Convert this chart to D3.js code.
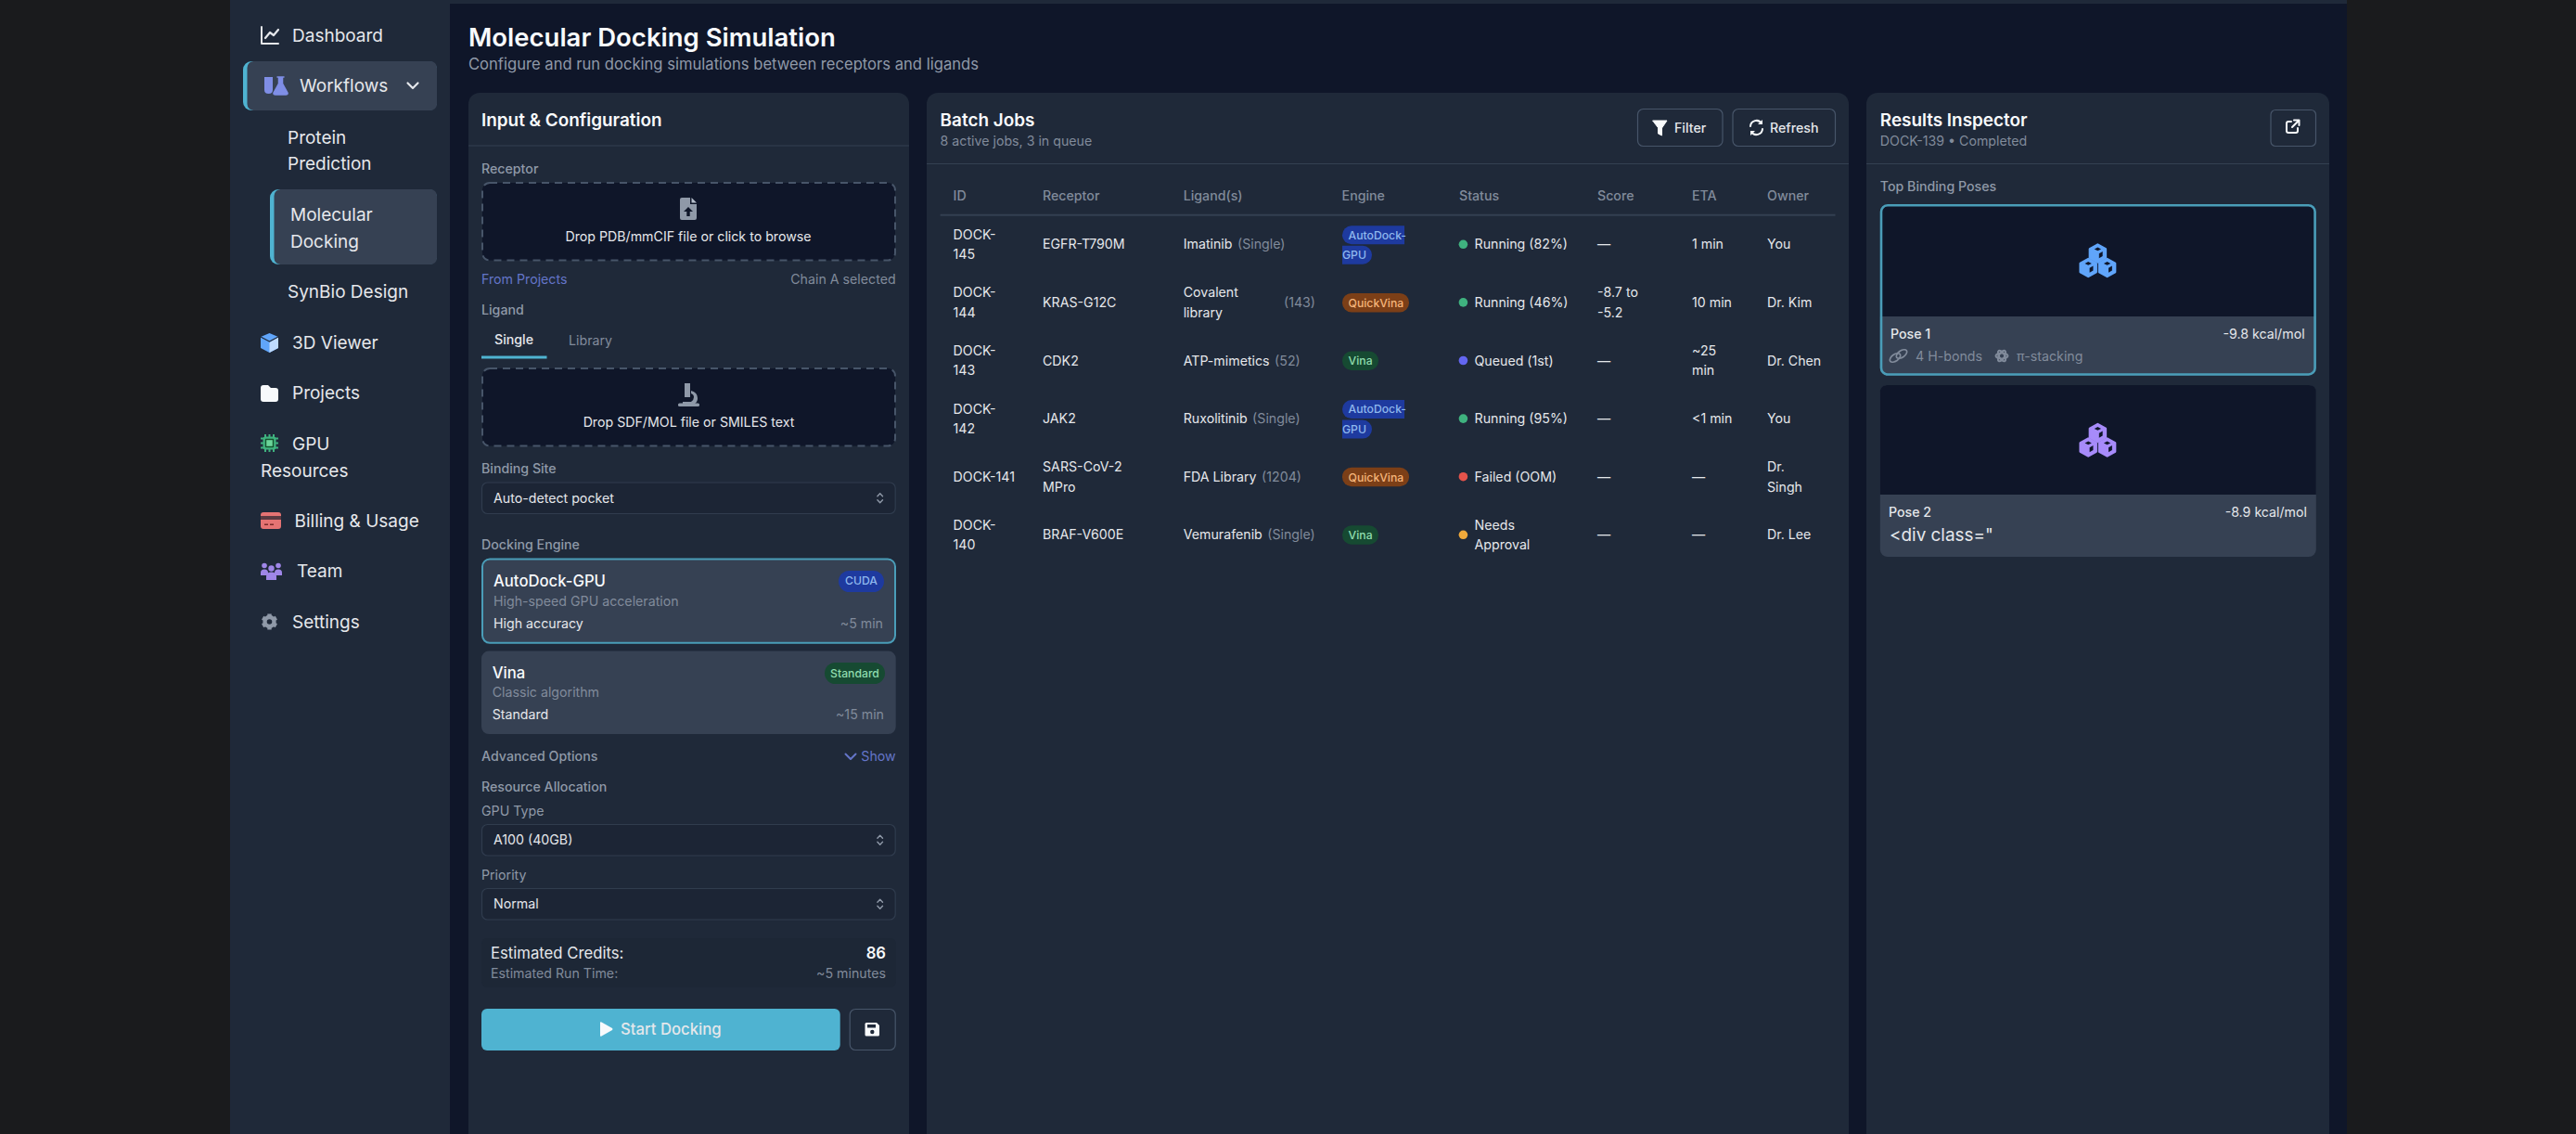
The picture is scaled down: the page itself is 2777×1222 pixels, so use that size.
<!DOCTYPE html>
<html><head><meta charset="utf-8">
<script src="https://cdn.jsdelivr.net/npm/d3@7/dist/d3.min.js"></script>
<style>html,body{margin:0;padding:0;background:#1a1b1d;overflow:hidden}svg{display:block}text{font-family:Inter,sans-serif}</style>
</head><body><svg id="c" width="2777" height="1222"></svg>
<script>
const columnLabels = ["ID","Receptor","Ligand(s)","Engine","Status","Score","ETA","Owner"];
const jobIds = [["DOCK-","145"],["DOCK-","144"],["DOCK-","143"],["DOCK-","142"],["DOCK-141"],["DOCK-","140"]];
const receptors = [["EGFR-T790M"],["KRAS-G12C"],["CDK2"],["JAK2"],["SARS-CoV-2","MPro"],["BRAF-V600E"]];
const ligandNames = [["Imatinib"],["Covalent","library"],["ATP-mimetics"],["Ruxolitinib"],["FDA Library"],["Vemurafenib"]];
const ligandNotes = ["(Single)","(143)","(52)","(Single)","(1204)","(Single)"];
const engines = ["AutoDock-GPU","QuickVina","Vina","AutoDock-GPU","QuickVina","Vina"];
const statuses = [["Running (82%)"],["Running (46%)"],["Queued (1st)"],["Running (95%)"],["Failed (OOM)"],["Needs","Approval"]];
const statusKinds = ["run","run","queue","run","fail","wait"];
const scores = [["—"],["-8.7 to","-5.2"],["—"],["—"],["—"],["—"]];
const etas = [["1 min"],["10 min"],["~25","min"],["<1 min"],["—"],["—"]];
const owners = [["You"],["Dr. Kim"],["Dr. Chen"],["You"],["Dr.","Singh"],["Dr. Lee"]];
const navItems = ["Dashboard","3D Viewer","Projects","Billing & Usage","Team","Settings"];

const svg = d3.select("#c");
const C = {outer:"#1a1b1d",bg:"#0f1629",panel:"#1f2939",raised:"#364153",line:"#344052",accent:"#4fb3d1",text:"#e5e7eb",white:"#f8fafc",mute:"#8f99a8",dim:"#818b9b",indigo:"#6475c8"};
const R=(x0,y0,x1,y1,fill,o={})=>svg.append("rect").attr("x",x0).attr("y",y0).attr("width",x1-x0).attr("height",y1-y0).attr("rx",o.r||0).attr("fill",fill).attr("stroke",o.stroke||"none").attr("stroke-width",o.sw||1).attr("stroke-dasharray",o.dash||null);
const T=(x,y,s,o={})=>svg.append("text").attr("x",x).attr("y",y).attr("dy","0.36em").attr("font-size",o.size||14.2).attr("font-weight",o.weight||400).attr("fill",o.fill||C.text).attr("text-anchor",o.anchor||"start").text(s);
const P=(d,fill,o={})=>svg.append("path").attr("d",d).attr("fill",fill).attr("stroke",o.stroke||"none").attr("stroke-width",o.sw||1).attr("stroke-linecap","round").attr("stroke-linejoin","round");
const L=(x0,y0,x1,y1,c,w=1.5)=>svg.append("line").attr("x1",x0).attr("y1",y0).attr("x2",x1).attr("y2",y1).attr("stroke",c).attr("stroke-width",w);
const NAV=19, SM=14.2, MD=16.7, H2=18.9;

// shell
R(248,0,485,1222,C.panel);
R(485,0,2530,1222,C.bg);
R(485,0,2530,4,C.panel);

// sidebar
const navY = d3.scaleOrdinal().domain(navItems).range([38,369,423.5,561.5,615,670]);
const navX = d3.scaleOrdinal().domain(navItems).range([315,315,315,317.5,320,315]);
navItems.forEach(n=>T(navX(n),navY(n),n,{size:NAV}));
P("M282 29V47H300","none",{stroke:C.text,sw:2});
P("M286 41L291 35L295 38L300 32","none",{stroke:C.text,sw:2.2});

R(262,66,471,119,C.accent,{r:9});
R(266.5,66,471,119,C.raised,{r:7});
P("M285 83H294V97Q294 101 289.5 101Q285 101 285 97Z","#7f8ee6");
P("M299 83H306M300.5 83V90L295 100Q294.5 102 297 102H308Q310.5 102 310 100L304.5 90V83","#7f8ee6",{stroke:"#7f8ee6",sw:1.5});
T(323,92.5,"Workflows",{size:NAV});
P("M439.5 89.5L445 95L450.5 89.5","none",{stroke:C.text,sw:2.2});
T(310,148,"Protein",{size:NAV});T(310,176,"Prediction",{size:NAV});
R(291,204,471,285,C.accent,{r:9});
R(295.5,204,471,285,C.raised,{r:7});
T(313,231,"Molecular",{size:NAV});T(313,260,"Docking",{size:NAV});
T(310,314,"SynBio Design",{size:NAV});

// 3D viewer icon
P("M290.5 359L300 363V375L290.5 380L281 375V363Z","#60a5fa");
P("M290.5 369V380L300 375V363Z","#bfdbfe");
P("M281 363L290.5 368L300 363","none",{stroke:C.panel,sw:1.3});
// folder
P("M281 418Q281 415 284 415H289L292 418H297Q300 418 300 421V430Q300 433 297 433H284Q281 433 281 430Z",C.white);
// gpu
[472.5,477.5,482.5].forEach(y=>{L(281,y,300,y,"#3fb27f",2)});
[286,290.5,295].forEach(x=>{L(x,468,x,487,"#3fb27f",2)});
R(283.5,470.5,297.5,484.5,"#3fb27f",{r:2.5});R(285.8,472.8,295.2,482.2,"#14532d",{r:1});R(287.2,474.2,293.8,480.8,"#6bd49a");
T(315,478,"GPU",{size:NAV});T(281,507,"Resources",{size:NAV});
// billing
R(281,552,303,570,"#e57373",{r:3});R(281,556,303,560,"#5b3a42");
R(285,564.5,289,566,"#7a2a2a");R(291,564.5,295,566,"#7a2a2a");
// team
[[285,609.5,2.8],[300,609.5,2.8],[292.5,612.5,3.2]].forEach(([x,y,r])=>svg.append("circle").attr("cx",x).attr("cy",y).attr("r",r).attr("fill","#9f86e8"));
P("M281 620V617Q281 613.5 285 613.5Q289 613.5 289 617V620ZM296 620V617Q296 613.5 300 613.5Q304 613.5 304 617V620ZM287 625V621Q287 616.5 292.5 616.5Q298 616.5 298 621V625Z","#9f86e8");
// settings
d3.range(6).forEach(i=>{const a=i*Math.PI/3+Math.PI/6;L(290.5+6*Math.cos(a),670+6*Math.sin(a),290.5+8.5*Math.cos(a),670+8.5*Math.sin(a),C.mute,4.4)});
svg.append("circle").attr("cx",290.5).attr("cy",670).attr("r",5).attr("fill","none").attr("stroke",C.mute).attr("stroke-width",4.4);

// heading
T(505,40,"Molecular Docking Simulation",{size:27.5,weight:600,fill:C.white});
T(505,69,"Configure and run docking simulations between receptors and ligands",{size:16.6,fill:C.mute});

// panels
R(505,100,980,1260,C.panel,{r:12});
R(999,100,1993,1260,C.panel,{r:12});
R(2012,100,2511,1260,C.panel,{r:12});
R(505,156.5,980,157.5,C.line);R(999,176,1993,177,C.line);R(2012,176,2511,177,C.line);

// input panel
const lab=(y,s)=>T(519,y,s,{weight:500,fill:C.mute});
T(519,129,"Input & Configuration",{size:H2,weight:600,fill:C.white});
lab(182,"Receptor");
const drop=(y0,y1)=>R(520,y0,965,y1,C.bg,{r:8,stroke:"#475569",sw:2,dash:"8 6"});
drop(197,280.5);
P("M735 213H744V220H751V235Q751 237 749 237H735Q733 237 733 235V215Q733 213 735 213Z",C.mute);
P("M745.5 213L751 218.5H745.5Z","#b6bfcb");
P("M742 223L747 228H743.7V233H740.3V228H737Z",C.bg);
T(742,255,"Drop PDB/mmCIF file or click to browse",{anchor:"middle"});
T(519,300.5,"From Projects",{fill:C.indigo});
T(965.6,300.5,"Chain A selected",{fill:C.dim,anchor:"end"});
lab(334,"Ligand");
T(554,366,"Single",{anchor:"middle",weight:500});
T(636.5,367,"Library",{anchor:"middle",fill:C.dim});
R(519,383.5,589.5,386.5,C.accent);
drop(397,480.5);
P("M738 413H744V428H738Z",C.mute);
P("M745 421Q752 423 752 429Q752 433 749 435H736V433H745Q748 431 748 428Q748 425 745 424Z",C.mute);
R(731,434.5,754,438,C.mute,{r:1.5});
T(742.5,455,"Drop SDF/MOL file or SMILES text",{anchor:"middle"});
lab(505,"Binding Site");
const sel=(y0,y1,s)=>{R(519.5,y0,965.2,y1,"#1c2535",{r:6,stroke:"#303c4e",sw:1.2});T(532,(y0+y1)/2,s,{fill:C.text});
 const cx=948.7,cy=(y0+y1)/2;P(`M${cx-2.8} ${cy-2}L${cx} ${cy-5}L${cx+2.8} ${cy-2}M${cx-2.8} ${cy+2}L${cx} ${cy+5}L${cx+2.8} ${cy+2}`,"none",{stroke:C.mute,sw:1.4});};
sel(520,553.5,"Auto-detect pocket");
lab(587,"Docking Engine");

// engine cards
R(520,602.5,965,692.8,C.raised,{r:8,stroke:"#4a9db8",sw:2});
T(532,626,"AutoDock-GPU",{size:MD,weight:500,fill:C.white});
T(532,647.6,"High-speed GPU acceleration",{fill:C.dim});
T(532,671.4,"High accuracy");
T(952,671.4,"~5 min",{fill:C.dim,anchor:"end"});
R(904,615,953,638,"#1e3a9f",{r:11.5});
T(928.5,626,"CUDA",{size:12.2,weight:500,fill:"#8fb8ee",anchor:"middle"});
R(519,701.6,965.7,791,C.raised,{r:8});
T(530.7,725.4,"Vina",{size:MD,weight:500,fill:C.white});
T(530.7,746,"Classic algorithm",{fill:C.dim});
T(530.7,770,"Standard");
T(953,770,"~15 min",{fill:C.dim,anchor:"end"});
R(889,714,954,737,"#164a32",{r:11.5});
T(921.5,725.5,"Standard",{size:12.2,weight:500,fill:"#8fdcae",anchor:"middle"});

T(519,815,"Advanced Options",{weight:500,fill:C.mute});
P("M911.5 812.5L917 818L922.5 812.5","none",{stroke:C.indigo,sw:2});
T(965.7,815,"Show",{fill:C.indigo,anchor:"end"});
T(519,848,"Resource Allocation",{weight:500,fill:C.mute});
T(519,873.4,"GPU Type",{fill:C.mute});
sel(888.5,922,"A100 (40GB)");
T(519,942.5,"Priority",{fill:C.mute});
sel(957.5,991,"Normal");
R(519,1011,966,1064,"#1d2736",{r:6});
T(529,1027,"Estimated Credits:",{size:MD,fill:C.text});
T(955,1027,"86",{size:MD,weight:600,fill:C.white,anchor:"end"});
T(529,1048.4,"Estimated Run Time:",{fill:C.dim});
T(955,1048.4,"~5 minutes",{fill:C.dim,anchor:"end"});
R(519,1087,905.7,1132,C.accent,{r:6});
P("M647 1102Q647 1101 648.5 1101.6L660 1108Q661 1109 660 1110L648.5 1116.4Q647 1117 647 1116Z",C.white);
T(669,1109,"Start Docking",{size:MD,weight:500,fill:C.text});
R(916.2,1087.5,965.2,1131.5,"none",{r:6,stroke:"#475569",sw:1.2});
P("M934 1102H945L948 1105V1115Q948 1116.5 946.5 1116.5H934Q932.5 1116.5 932.5 1115V1103.5Q932.5 1102 934 1102Z",C.white);
R(935,1104,944,1107.5,C.panel);
svg.append("circle").attr("cx",940.3).attr("cy",1112).attr("r",2.2).attr("fill",C.panel);

// batch panel
T(1013.6,129,"Batch Jobs",{size:H2,weight:600,fill:C.white});
T(1013.6,152,"8 active jobs, 3 in queue",{fill:C.dim});
R(1765.5,117.5,1857,157.5,"none",{r:6,stroke:"#475569",sw:1.2});
P("M1782 130H1797L1791.5 138V146L1787.5 144V138Z",C.white,{stroke:C.white,sw:1});
T(1805,137.5,"Filter",{weight:500});
R(1868,117.5,1978.5,157.5,"none",{r:6,stroke:"#475569",sw:1.2});
P("M1887 136A6.5 6.5 0 0 1 1899 133M1900 139A6.5 6.5 0 0 1 1888 142","none",{stroke:C.white,sw:2});
P("M1900 129V134H1895ZM1887 146V141H1892Z",C.white);
T(1908,137.5,"Refresh",{weight:500});

const colX = d3.scaleOrdinal().domain(columnLabels).range([1027.6,1124,1275.7,1446.6,1573,1722,1824,1905]);
const rowIdx = d3.range(jobIds.length);
const rowY = d3.scaleBand().domain(rowIdx).range([232,607.6]);
const rc = i=>rowY(i)+rowY.bandwidth()/2;
const LH=21.4, FS=14.2;
columnLabels.forEach(c=>T(colX(c),211.3,c,{size:FS,weight:500,fill:C.dim}));
R(1013.6,230.7,1978.5,232.7,C.line);
const multi=(x,i,lines,o={})=>lines.forEach((s,k)=>T(x,rc(i)+(k-(lines.length-1)/2)*LH,s,{size:FS,...o}));
const engStyle={ "AutoDock-GPU":["#1e3a9f","#8fb8ee"], "QuickVina":["#7c3f17","#f5b57a"], "Vina":["#164a32","#8fdcae"] };
const engW = {"QuickVina":72,"Vina":39};
const statusColor = d3.scaleOrdinal().domain(["run","queue","fail","wait"]).range(["#3fb27f","#6366f1","#e5534b","#f0a93b"]);
rowIdx.forEach(i=>{
  multi(colX("ID"),i,jobIds[i]);
  multi(colX("Receptor"),i,receptors[i]);
  multi(colX("Ligand(s)"),i,ligandNames[i]);
  const single = ligandNames[i].length==1;
  const ln = single ? T(colX("Ligand(s)"),rc(i),ligandNames[i][0],{size:FS,fill:"none"}) : null;
  const nx = single ? colX("Ligand(s)")+ln.node().getComputedTextLength()+5.5 : 1384;
  T(nx,rc(i),ligandNotes[i],{size:FS,fill:C.dim});
  const e=engines[i],[bg,fg]=engStyle[e],y=rc(i);
  if(e=="AutoDock-GPU"){
    P(`M1514 ${y-20}V${y}H1457A10 10 0 0 1 1447 ${y-10}A10 10 0 0 1 1457 ${y-20}Z`,bg);
    P(`M1447 ${y+1.5}H1469A10 10 0 0 1 1479 ${y+11.5}A10 10 0 0 1 1469 ${y+21.5}H1447Z`,bg);
    T(1453.6,y-10,"AutoDock-",{size:12.2,fill:fg,weight:500});
    T(1447,y+11.5,"GPU",{size:12.2,fill:fg,weight:500});
  } else {
    R(1447,y-10,1447+engW[e],y+10.5,bg,{r:10});
    T(1453.6,y+.5,e,{size:12.2,fill:fg,weight:500});
  }
  svg.append("circle").attr("cx",1577.4).attr("cy",y).attr("r",4.8).attr("fill",statusColor(statusKinds[i]));
  multi(1589.5,i,statuses[i]);
  multi(colX("Score"),i,scores[i]);
  multi(colX("ETA"),i,etas[i]);
  multi(colX("Owner"),i,owners[i]);
});

// results panel
T(2026.8,129,"Results Inspector",{size:H2,weight:600,fill:C.white});
T(2026.8,152,"DOCK-139 • Completed",{fill:C.dim});
R(2448,118.5,2496.5,157.5,"none",{r:5,stroke:"#475569",sw:1.2});
P("M2470 131H2467Q2465 131 2465 133V141Q2465 143 2467 143H2475Q2477 143 2477 141V138","none",{stroke:C.white,sw:2});
P("M2471 137L2478 130M2473 129.5H2478.5V135","none",{stroke:C.white,sw:2});
T(2026.8,200.5,"Top Binding Poses",{weight:500,fill:C.mute});

function cube(x,y,s,color){
  P(`M${x} ${y-s}L${x+s*.9} ${y-s*.5}V${y+s*.5}L${x} ${y+s}L${x-s*.9} ${y+s*.5}V${y-s*.5}Z`,color,{stroke:color,sw:2.2});
  P(`M${x-s*.38} ${y-s*.48}L${x} ${y-s*.68}L${x+s*.38} ${y-s*.48}L${x} ${y-s*.28}Z`,C.bg);
  P(`M${x+s*.15} ${y+s*.02}L${x+s*.55} ${y-s*.2}V${y+s*.32}L${x+s*.15} ${y+s*.54}Z`,C.bg);
}
const cubes=(cx,cy,c)=>{cube(cx,cy-7.5,9.6,c);cube(cx-10.2,cy+8,9.6,c);cube(cx+10.2,cy+8,9.6,c);};
function poseCard(y0,y1,ym,color,selected){
  R(2026.8,y0,2496.8,y1,C.raised,{r:8});
  svg.append("path").attr("d",`M2026.8 ${ym}V${y0+8}Q2026.8 ${y0} 2034.8 ${y0}H2488.8Q2496.8 ${y0} 2496.8 ${y0+8}V${ym}Z`).attr("fill",C.bg);
  if(selected) R(2028,y0+1.2,2495.6,y1-1.2,"none",{r:7,stroke:"#4a9db8",sw:2.6});
  cubes(2261.4,(y0+ym)/2,color);
}
poseCard(220,404.7,341,'#60a5fa',true);
T(2038,359.6,"Pose 1",{weight:500});
T(2484.6,359.6,"-9.8 kcal/mol",{anchor:"end"});
[[2043,385.5],[2050,381.5]].forEach(([x,y])=>svg.append("ellipse").attr("cx",x).attr("cy",y).attr("rx",6.5).attr("ry",3.6).attr("transform",`rotate(-35 ${x} ${y})`).attr("fill","none").attr("stroke",C.dim).attr("stroke-width",1.7));
T(2065,383.7,"4 H-bonds",{fill:C.dim});
[0,60,120].forEach(a=>svg.append("ellipse").attr("cx",2158).attr("cy",383.5).attr("rx",6.5).attr("ry",3).attr("transform",`rotate(${a} 2158 383.5)`).attr("fill","none").attr("stroke",C.dim).attr("stroke-width",2));
T(2174,383.7,"π-stacking",{fill:C.dim});
poseCard(415,600,533,'#a78bfa',false);
T(2036,552,"Pose 2",{weight:500});
T(2487,552,"-8.9 kcal/mol",{anchor:"end"});
T(2037,576.6,'<div class="',{size:18.9,fill:C.text});
</script></body></html>
